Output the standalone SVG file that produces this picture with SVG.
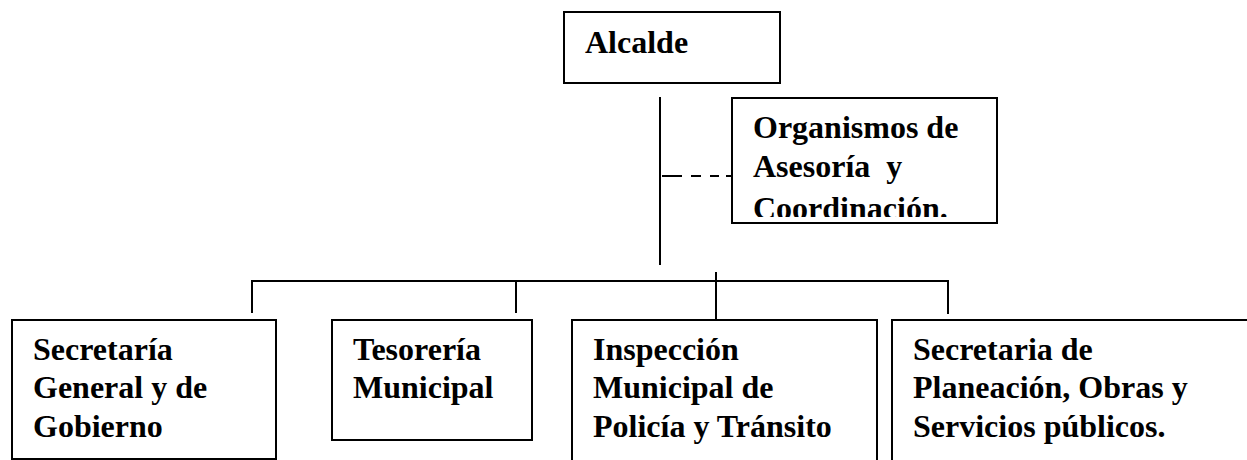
<svg xmlns="http://www.w3.org/2000/svg" width="1247" height="460" viewBox="0 0 1247 460">
<style>
.box{fill:#fff;stroke:#000;stroke-width:2}
.ln{fill:none;stroke:#000;stroke-width:2}
.t{font-family:"Liberation Serif","Times New Roman",serif;font-weight:bold;font-size:32px;fill:#000;white-space:pre}
</style>
<defs>
<clipPath id="orgClip"><rect x="733" y="99" width="263" height="118"/></clipPath>
</defs>
<rect width="1247" height="460" fill="#fff"/>
<g id="connectors">
<line class="ln" x1="660" y1="97" x2="660" y2="265"/>
<line class="ln" x1="662" y1="176" x2="732" y2="176" stroke-dasharray="20 9 10 9 9 7 5"/>
<polyline class="ln" points="252,313 252,281 948,281 948,314"/>
<line class="ln" x1="516" y1="281" x2="516" y2="313"/>
<line class="ln" x1="716" y1="272" x2="716" y2="320"/>
</g>
<g id="alcalde">
<rect class="box" x="564" y="12" width="216" height="71"/>
<text class="t" x="585" y="53">Alcalde</text>
</g>
<g id="organismos">
<rect class="box" x="732" y="98" width="265" height="125"/>
<g clip-path="url(#orgClip)">
<text class="t" x="753" y="138">Organismos de</text>
<text class="t" x="753" y="177" xml:space="preserve">Asesoría  y</text>
<text class="t" x="753" y="219">Coordinación.</text>
</g>
</g>
<g id="secretaria-general">
<rect class="box" x="12" y="320" width="264" height="139"/>
<text class="t" x="33" y="360">Secretaría</text>
<text class="t" x="33" y="398">General y de</text>
<text class="t" x="33" y="437">Gobierno</text>
</g>
<g id="tesoreria">
<rect class="box" x="332" y="320" width="200" height="120"/>
<text class="t" x="353" y="360">Tesorería</text>
<text class="t" x="353" y="398">Municipal</text>
</g>
<g id="inspeccion">
<rect class="box" x="572" y="320" width="305" height="160"/>
<text class="t" x="593" y="360">Inspección</text>
<text class="t" x="593" y="398">Municipal de</text>
<text class="t" x="593" y="437">Policía y Tránsito</text>
</g>
<g id="planeacion">
<rect class="box" x="892" y="320" width="380" height="160"/>
<text class="t" x="913" y="360">Secretaria de</text>
<text class="t" x="913" y="398">Planeación, Obras y</text>
<text class="t" x="913" y="437">Servicios públicos.</text>
</g>
</svg>
